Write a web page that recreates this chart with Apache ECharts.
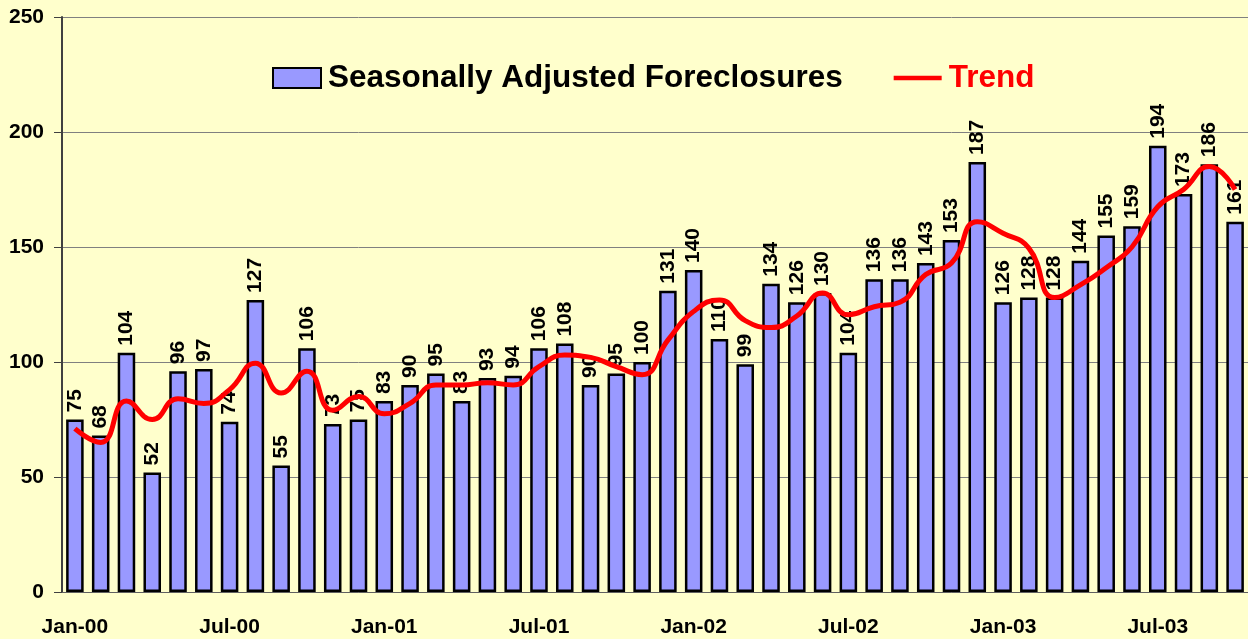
<!DOCTYPE html>
<html>
<head>
    <meta charset="utf-8" />
    <title>Foreclosures</title>
    <script src="https://cdn.jsdelivr.net/npm/echarts@6/dist/echarts.min.js"></script>
    <style>
        html, body { margin: 0; padding: 0; background: #FFFFCC; }
        #chart { width: 1248px; height: 639px; }
    </style>
</head>
<body>
    <div id="chart"></div>
    <script>
        // months, Jan-00 .. Oct-03
        var months = [
            "Jan-00", "Feb-00", "Mar-00", "Apr-00", "May-00", "Jun-00", "Jul-00", "Aug-00", "Sep-00", "Oct-00", "Nov-00", "Dec-00",
            "Jan-01", "Feb-01", "Mar-01", "Apr-01", "May-01", "Jun-01", "Jul-01", "Aug-01", "Sep-01", "Oct-01", "Nov-01", "Dec-01",
            "Jan-02", "Feb-02", "Mar-02", "Apr-02", "May-02", "Jun-02", "Jul-02", "Aug-02", "Sep-02", "Oct-02", "Nov-02", "Dec-02",
            "Jan-03", "Feb-03", "Mar-03", "Apr-03", "May-03", "Jun-03", "Jul-03", "Aug-03", "Sep-03", "Oct-03"
        ];
        // seasonally adjusted foreclosures (bar labels)
        var adjusted = [
            75, 68, 104, 52, 96, 97, 74, 127, 55, 106, 73, 75,
            83, 90, 95, 83, 93, 94, 106, 108, 90, 95, 100, 131,
            140, 110, 99, 134, 126, 130, 104, 136, 136, 143, 153, 187,
            126, 128, 128, 144, 155, 159, 194, 173, 186, 161
        ];
        // trend line
        var trend = [
            71, 65, 83, 75, 84, 82, 88, 99.5, 86.5, 96, 79, 85,
            77.5, 82, 90, 90, 91, 90, 98, 103, 102, 98, 94.5, 109.5,
            122, 127, 118, 115, 120, 130, 120.5, 124, 126, 138, 143, 161,
            156, 149.5, 128, 133.5, 141, 150, 167.5, 175, 185, 175
        ];
        var yTicks = [0, 50, 100, 150, 200, 250];

        var font = "'Liberation Sans', Arial, sans-serif";
        var chart = echarts.init(document.getElementById('chart'));
        chart.setOption({
            backgroundColor: '#FFFFCC',
            animation: false,
            textStyle: { fontFamily: font },
            grid: { left: 62, right: 0, top: 17, bottom: 47, containLabel: false },
            legend: {
                left: 267,
                top: 57,
                itemWidth: 48,
                itemHeight: 20,
                itemGap: 51,
                selectedMode: false,
                symbolKeepAspect: true,
                textStyle: { fontSize: 31.5, fontWeight: 'bold', fontFamily: font, color: '#000', padding: [0, 0, 0, 2] },
                data: [
                    { name: 'Seasonally Adjusted Foreclosures', icon: 'rect' },
                    {
                        name: 'Trend',
                        icon: 'path://M0,0 L52,0 L52,5 L0,5 Z',
                        itemStyle: { color: '#FF0000' },
                        textStyle: { color: '#FF0000' }
                    }
                ]
            },
            xAxis: {
                type: 'category',
                data: months,
                boundaryGap: true,
                axisLine: { lineStyle: { color: '#606060', width: 1 } },
                axisTick: { interval: 5, length: 6, lineStyle: { color: '#606060' } },
                axisLabel: { interval: 5, margin: 25, fontSize: 21, fontWeight: 'bold', color: '#000', fontFamily: font }
            },
            yAxis: {
                type: 'value',
                min: yTicks[0],
                max: yTicks[yTicks.length - 1],
                interval: 50,
                axisLine: { show: true, lineStyle: { color: '#404040', width: 2 } },
                axisTick: { show: true, length: 8, lineStyle: { color: '#404040' } },
                axisLabel: { margin: 18, fontSize: 21, fontWeight: 'bold', color: '#000', fontFamily: font },
                splitLine: { lineStyle: { color: '#808080', width: 1 } }
            },
            series: [
                {
                    name: 'Seasonally Adjusted Foreclosures',
                    type: 'bar',
                    data: adjusted,
                    barCategoryGap: '32%',
                    itemStyle: { color: '#9999FF', borderColor: '#000', borderWidth: 2.5 },
                    label: {
                        show: true,
                        position: 'top',
                        rotate: 90,
                        align: 'left',
                        verticalAlign: 'middle',
                        distance: 7,
                        fontSize: 21,
                        fontWeight: 'bold',
                        color: '#000',
                        fontFamily: font
                    },
                    z: 2
                },
                {
                    name: 'Trend',
                    type: 'line',
                    data: trend,
                    smooth: 0.5,
                    symbol: 'none',
                    lineStyle: { color: '#FF0000', width: 5 },
                    itemStyle: { color: '#FF0000' },
                    z: 3
                }
            ]
        });
    </script>
</body>
</html>
